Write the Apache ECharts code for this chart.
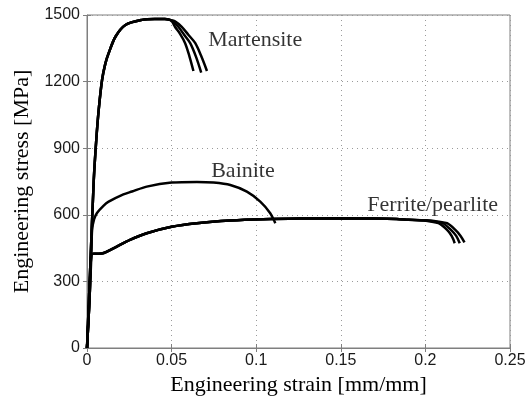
<!DOCTYPE html>
<html>
<head>
<meta charset="utf-8">
<script src="https://cdn.jsdelivr.net/npm/echarts@6/dist/echarts.min.js"></script>
<style>
  html, body { margin: 0; padding: 0; background: #fff; }
  #chart { width: 529px; height: 401px; }
</style>
</head>
<body>
<div id="chart"></div>
<script>
// strain [mm/mm], stress [MPa]
var martensiteBase = [[0,0],[0.002,380],[0.004,757],[0.0055,940],[0.0069,1072],[0.0089,1207],[0.0108,1280],[0.0128,1328],[0.0168,1402],[0.0227,1455],[0.0325,1478],[0.04,1482],[0.046,1482],[0.049,1478]];
var martensiteTailA = [[0.0505,1468],[0.052,1447],[0.055,1415],[0.058,1373],[0.0605,1315],[0.0629,1248]];
var martensiteTailB = [[0.051,1470],[0.054,1447],[0.0575,1410],[0.061,1373],[0.0645,1310],[0.0675,1240]];
var martensiteTailC = [[0.052,1472],[0.056,1447],[0.060,1410],[0.064,1373],[0.0675,1315],[0.0709,1248]];

var bainite = [[0,0],[0.0015,220],[0.0026,423],[0.003,531],[0.0042,580],[0.0059,608],[0.0097,640],[0.0128,659],[0.0215,692],[0.0266,705],[0.0353,727],[0.05,745],[0.065,748],[0.0748,745],[0.0847,734],[0.0945,704],[0.1024,659],[0.1083,607],[0.1113,562]];

var ferriteBase = [[0,0],[0.0015,220],[0.0026,423],[0.004,425],[0.007,425],[0.0099,428],[0.0156,449],[0.0254,487],[0.0353,517],[0.05,546],[0.0649,562],[0.0847,574],[0.104,580],[0.126,583],[0.15,584],[0.17,583],[0.183,581],[0.19,578]];
var ferriteTailA = [[0.197,575],[0.203,570],[0.2078,562],[0.2128,532],[0.2155,505],[0.2173,472]];
var ferriteTailB = [[0.199,575],[0.206,569],[0.2104,562],[0.2151,532],[0.2182,505],[0.2203,472]];
var ferriteTailC = [[0.2,575],[0.208,569],[0.2128,562],[0.2177,532],[0.2208,505],[0.2231,476]];

// annotation anchors (left edge of text, vertical middle)
var labelNames = ['Martensite', 'Bainite', 'Ferrite/pearlite'];
var labelStrain = [0.0716, 0.0734, 0.1657];
var labelStress = [1388, 797, 644];

var chart = echarts.init(document.getElementById('chart'));

function curve(data) {
    return {
        type: 'line',
        data: data,
        showSymbol: false,
        smooth: 0.3,
        lineStyle: { color: '#000', width: 2.5 },
        z: 3,
        silent: true
    };
}

var series = [];
[martensiteTailA, martensiteTailB, martensiteTailC].forEach(function (t) {
    series.push(curve(martensiteBase.concat(t)));
});
series.push(curve(bainite));
[ferriteTailA, ferriteTailB, ferriteTailC].forEach(function (t) {
    series.push(curve(ferriteBase.concat(t)));
});

series.push({
    type: 'scatter',
    symbolSize: 0,
    silent: true,
    data: labelNames.map(function (n, i) { return { name: n, value: [labelStrain[i], labelStress[i]] }; }),
    label: {
        show: true,
        position: 'right',
        distance: 0,
        formatter: '{b}',
        color: '#000',
        fontFamily: 'Liberation Serif',
        fontSize: 22
    }
});

var frameColor = '#7f7f7f';

var option = {
    animation: false,
    grid: {
        left: 87, right: 19, top: 15, bottom: 53,
        show: true, borderColor: frameColor, borderWidth: 1,
        containLabel: false
    },
    xAxis: [{
        type: 'value',
        min: 0, max: 0.25, interval: 0.05,
        name: 'Engineering strain [mm/mm]',
        nameLocation: 'middle',
        nameGap: 25,
        nameTextStyle: { fontFamily: 'Liberation Serif', fontSize: 22, color: '#000' },
        axisLine: { show: true, lineStyle: { color: frameColor } },
        axisTick: { show: true, inside: true, length: 4, lineStyle: { color: frameColor } },
        axisLabel: {
            margin: 5, color: '#1a1a1a', fontFamily: 'Liberation Sans', fontSize: 16,
            formatter: function (v) { return String(+v.toFixed(2)); }
        },
        splitLine: { show: true, lineStyle: { color: '#9a9a9a', type: [1, 4], width: 1 } }
    }, {
        type: 'value', position: 'top',
        min: 0, max: 0.25, interval: 0.05,
        axisLine: { show: false },
        axisTick: { show: true, inside: true, length: 4, lineStyle: { color: frameColor } },
        axisLabel: { show: false },
        splitLine: { show: false }
    }],
    yAxis: [{
        type: 'value',
        min: 0, max: 1500, interval: 300,
        name: 'Engineering stress [MPa]',
        nameLocation: 'middle',
        nameGap: 53,
        nameTextStyle: { fontFamily: 'Liberation Serif', fontSize: 22, color: '#000' },
        axisLine: { show: true, lineStyle: { color: frameColor } },
        axisTick: { show: true, inside: true, length: 4, lineStyle: { color: frameColor } },
        axisLabel: {
            margin: 7, color: '#1a1a1a', fontFamily: 'Liberation Sans', fontSize: 16,
            formatter: function (v) { return String(v); }
        },
        splitLine: { show: true, lineStyle: { color: '#9a9a9a', type: [1, 4], width: 1 } }
    }, {
        type: 'value', position: 'right',
        min: 0, max: 1500, interval: 300,
        axisLine: { show: false },
        axisTick: { show: true, inside: true, length: 4, lineStyle: { color: frameColor } },
        axisLabel: { show: false },
        splitLine: { show: false }
    }],
    series: series
};

chart.setOption(option);
</script>
</body>
</html>
